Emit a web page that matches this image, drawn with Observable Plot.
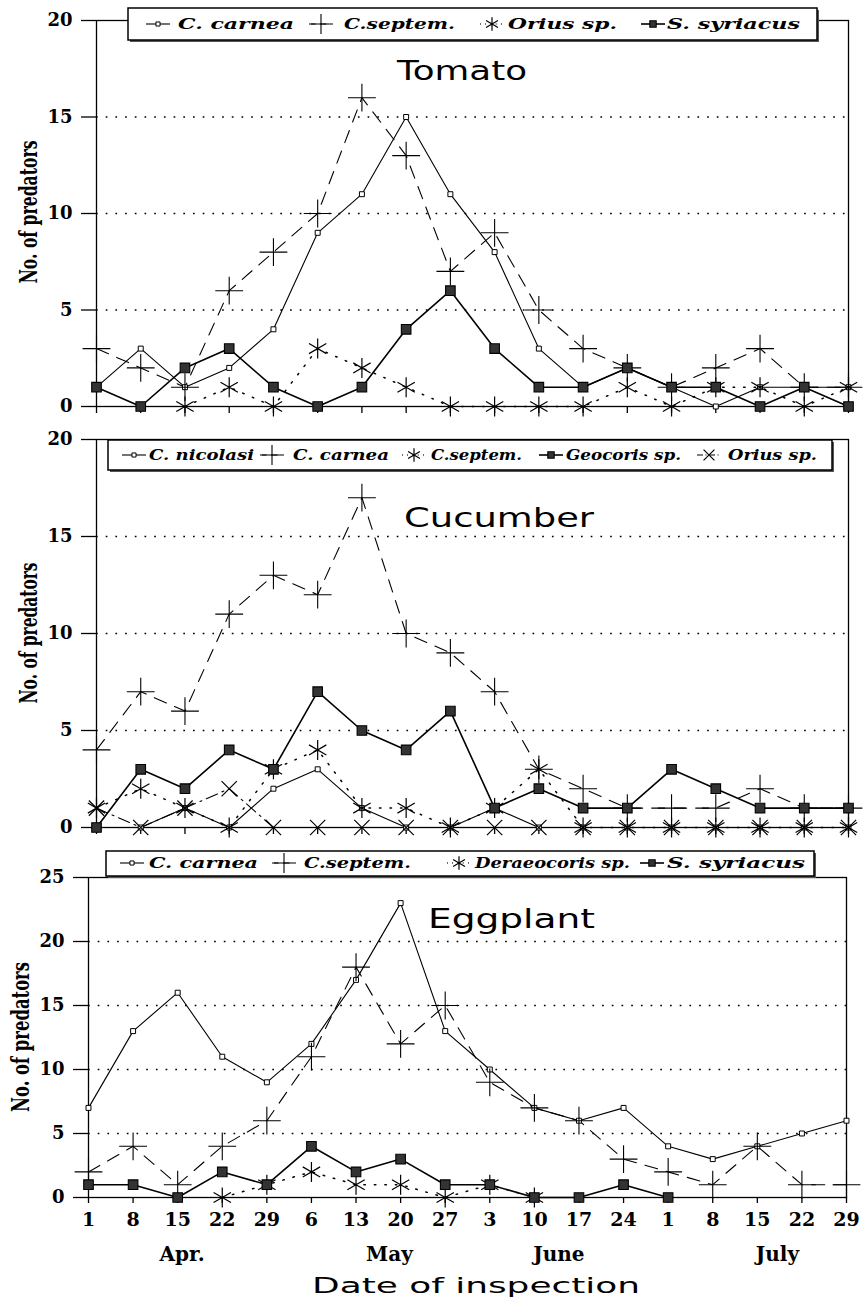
<!DOCTYPE html>
<html>
<head>
<meta charset="utf-8">
<script src="https://cdn.jsdelivr.net/npm/d3@7"></script>
<script src="https://cdn.jsdelivr.net/npm/@observablehq/plot@0.6"></script>
<style>
  html, body { margin: 0; padding: 0; background: #fff; }
  #root { position: relative; width: 867px; height: 1298px; overflow: hidden; background: #fff; }
  #root > svg, #root > div { position: absolute; left: 0; }
</style>
</head>
<body>
<div id="root"></div>
<script>
// ---------------- data ----------------
const dates = ["1","8","15","22","29","6","13","20","27","3","10","17","24","1","8","15","22","29"];
const months = ["Apr.", "May", "June", "July"];
const monthCenters = [2.1, 6.75, 10.55, 15.45]; // date-index positions of month labels

const tomatoCarnea   = [1,3,1,2,4,9,11,15,11,8,3,1,2,1,0,1,1,1];
const tomatoSeptem   = [3,2,1,6,8,10,16,13,7,9,5,3,2,1,2,3,1,1];
const tomatoOrius    = [null,null,0,1,0,3,2,1,0,0,0,0,1,0,1,1,0,1];
const tomatoSyriacus = [1,0,2,3,1,0,1,4,6,3,1,1,2,1,1,0,1,0];

const cucNicolasi = [0,0,1,0,2,3,1,0,0,1,0,0,0,0,0,0,0,0];
const cucCarnea   = [4,7,6,11,13,12,17,10,9,7,3,2,1,1,1,2,1,1];
const cucSeptem   = [1,2,1,0,3,4,1,1,0,1,3,0,0,0,0,0,0,0];
const cucGeocoris = [0,3,2,4,3,7,5,4,6,1,2,1,1,3,2,1,1,1];
const cucOrius    = [1,0,1,2,0,0,0,0,0,0,0,0,0,0,0,0,0,0];

const eggCarnea      = [7,13,16,11,9,12,17,23,13,10,7,6,7,4,3,4,5,6];
const eggSeptem      = [2,4,1,4,6,11,18,12,15,9,7,6,3,2,1,4,1,1];
const eggDeraeocoris = [null,null,null,0,1,2,1,1,0,1,0,null,null,null,null,null,null,null];
const eggSyriacus    = [1,1,0,2,1,4,2,3,1,1,0,0,1,0,null,null,null,null];

// ---------------- styles ----------------
const markStyles = {
  smallSquare: {symbol: "square",   r: 2.8, fill: "white",   sw: 1.0, legendR: 2.3},
  bigSquare:   {symbol: "square",   r: 5.4, fill: "#333",    sw: 1.1, legendR: 3.6},
  plus:        {symbol: "plus",     r: 9,   fill: "none",    sw: 1.1, legendR: 6.5},
  asterisk:    {symbol: "asterisk", r: 9.5, fill: "none",    sw: 1.2, legendR: 6.5},
  times:       {symbol: "times",    r: 7,   fill: "none",    sw: 1.2, legendR: 5}
};
const lineStyles = {
  solid:      {w: 1.1, dash: null},
  solidThick: {w: 1.6, dash: null},
  dashed:     {w: 1.1, dash: "13,9"},
  dotted:     {w: 1.5, dash: "1.5,9"},
  dashdot:    {w: 1.1, dash: "12,5,2,5"}
};
const d3Symbols = {square: d3.symbolSquare, plus: d3.symbolPlus, asterisk: d3.symbolAsterisk, times: d3.symbolTimes};

const seriesTomato = [
  {name: "C. carnea",   values: tomatoCarnea,   mark: "smallSquare", line: "solid"},
  {name: "C.septem.",   values: tomatoSeptem,   mark: "plus",        line: "dashed"},
  {name: "Orius sp.",   values: tomatoOrius,    mark: "asterisk",    line: "dotted"},
  {name: "S. syriacus", values: tomatoSyriacus, mark: "bigSquare",   line: "solidThick"}
];
const seriesCucumber = [
  {name: "C. nicolasi",  values: cucNicolasi, mark: "smallSquare", line: "solid"},
  {name: "C. carnea",    values: cucCarnea,   mark: "plus",        line: "dashed"},
  {name: "C.septem.",    values: cucSeptem,   mark: "asterisk",    line: "dotted"},
  {name: "Geocoris sp.", values: cucGeocoris, mark: "bigSquare",   line: "solidThick"},
  {name: "Orius sp.",    values: cucOrius,    mark: "times",       line: "dashdot"}
];
const seriesEggplant = [
  {name: "C. carnea",       values: eggCarnea,      mark: "smallSquare", line: "solid"},
  {name: "C.septem.",       values: eggSeptem,      mark: "plus",        line: "dashed"},
  {name: "Deraeocoris sp.", values: eggDeraeocoris, mark: "asterisk",    line: "dotted"},
  {name: "S. syriacus",     values: eggSyriacus,    mark: "bigSquare",   line: "solidThick"}
];

const root = document.getElementById("root");
const idx = d3.range(dates.length);
const serifBold = {fontFamily: "DejaVu Serif", fontWeight: "bold"};

function panel({top, height, mt, mb, ml, mr, yMax, series, labels}) {
  const yTicks = d3.range(0, yMax + 1, 5);
  const grid = yTicks.filter(v => v > 0 && v < yMax);
  const marks = [
    Plot.ruleY(grid, {stroke: "#000", strokeWidth: 1.7, strokeDasharray: "1.7,8"}),
    Plot.frame({stroke: "#000", strokeWidth: 1.3}),
    Plot.axisY({ticks: yTicks, tickSize: 15, tickPadding: 9, fontSize: 18, ...serifBold, label: null, strokeWidth: 1.3}),
    labels
      ? Plot.axisX({ticks: idx, tickFormat: i => dates[i], tickSize: 6, tickPadding: 9, fontSize: 19, ...serifBold, label: null, strokeWidth: 1.3})
      : Plot.axisX({ticks: idx, tickFormat: () => "", tickSize: 7, tickPadding: 0, label: null, strokeWidth: 1.3})
  ];
  if (labels) {
    marks.push(Plot.text(months, {x: monthCenters, frameAnchor: "bottom", dy: 63, lineAnchor: "bottom",
      text: d => d, fontSize: 20, ...serifBold, fill: "#000"}));
  }
  for (const s of series) {
    const ls = lineStyles[s.line];
    marks.push(Plot.line(idx, {x: i => i, y: i => s.values[i], stroke: "#000", strokeWidth: ls.w,
      strokeDasharray: ls.dash, curve: "linear"}));
  }
  for (const s of series) {
    const ms = markStyles[s.mark];
    marks.push(Plot.dot(idx.filter(i => s.values[i] != null), {x: i => i, y: i => s.values[i],
      symbol: ms.symbol, r: ms.r, fill: ms.fill, stroke: "#000", strokeWidth: ms.sw}));
  }
  const chart = Plot.plot({
    width: 867, height,
    marginTop: mt, marginBottom: mb, marginLeft: ml, marginRight: mr,
    x: {domain: [0, dates.length - 1]},
    y: {domain: [0, yMax]},
    style: {background: "transparent", color: "#000"},
    marks
  });
  chart.style.position = "absolute";
  chart.style.left = "0px";
  chart.style.top = top + "px";
  root.appendChild(chart);
}

panel({top: 0,   height: 420, mt: 20, mb: 14,  ml: 96, mr: 19, yMax: 20, series: seriesTomato,   labels: false});
panel({top: 420, height: 420, mt: 19, mb: 13,  ml: 96, mr: 19, yMax: 20, series: seriesCucumber, labels: false});
panel({top: 850, height: 448, mt: 27, mb: 101, ml: 88, mr: 21, yMax: 25, series: seriesEggplant, labels: true});

// ---------------- overlay: titles, legends, axis titles ----------------
const ov = d3.select(root).append("svg")
  .attr("width", 867).attr("height", 1298)
  .style("position", "absolute").style("left", "0px").style("top", "0px")
  .style("overflow", "visible");

function txt(str, x, y, {size, family, weight = "normal", style = "normal", length, anchor = "start", rotate = false}) {
  const t = ov.append("text")
    .attr("font-family", family).attr("font-size", size)
    .attr("font-weight", weight).attr("font-style", style)
    .attr("text-anchor", anchor).attr("fill", "#000")
    .text(str);
  if (rotate) t.attr("transform", `translate(${x},${y}) rotate(-90)`);
  else t.attr("x", x).attr("y", y);
  if (length) t.attr("textLength", length).attr("lengthAdjust", "spacingAndGlyphs");
  return t;
}

// panel titles
txt("Tomato",   397, 80,  {size: 27, family: "DejaVu Sans", length: 130});
txt("Cucumber", 404, 527, {size: 27, family: "DejaVu Sans", length: 190});
txt("Eggplant", 428, 928, {size: 27, family: "DejaVu Sans", length: 167});

// y axis titles
txt("No. of predators", 37, 212,  {size: 24, family: "DejaVu Serif", weight: "bold", anchor: "middle", length: 143, rotate: true});
txt("No. of predators", 37, 633,  {size: 24, family: "DejaVu Serif", weight: "bold", anchor: "middle", length: 141, rotate: true});
txt("No. of predators", 29, 1037, {size: 24, family: "DejaVu Serif", weight: "bold", anchor: "middle", length: 150, rotate: true});

// x axis title
txt("Date of inspection", 312, 1293, {size: 21, family: "DejaVu Sans", length: 328});

// legends
function legend(box, baseline, series, layout) {
  const [x0, y0, x1, y1] = box;
  ov.append("rect").attr("x", x0 + 2).attr("y", y0 + 2).attr("width", x1 - x0).attr("height", y1 - y0)
    .attr("fill", "#555");
  ov.append("rect").attr("x", x0).attr("y", y0).attr("width", x1 - x0).attr("height", y1 - y0)
    .attr("fill", "#fff").attr("stroke", "#000").attr("stroke-width", 1.5);
  const cy = baseline - 5;
  series.forEach((s, k) => {
    const [sx, tx, tw] = layout[k];
    const ls = lineStyles[s.line], ms = markStyles[s.mark];
    ov.append("line").attr("x1", sx - 12).attr("x2", sx + 12).attr("y1", cy).attr("y2", cy)
      .attr("stroke", "#000").attr("stroke-width", ls.w)
      .attr("stroke-dasharray", ls.dash ? ls.dash.split(",").map(v => +v * 0.5).join(",") : null);
    ov.append("path")
      .attr("d", d3.symbol(d3Symbols[ms.symbol], Math.PI * ms.legendR * ms.legendR)())
      .attr("transform", `translate(${sx},${cy})`)
      .attr("fill", ms.fill).attr("stroke", "#000").attr("stroke-width", ms.sw);
    txt(s.name, tx, baseline, {size: 14, family: "DejaVu Serif", weight: "bold", style: "italic", length: tw});
  });
}

legend([128, 8, 817, 40], 29, seriesTomato,
  [[158, 178, 116], [321, 344, 111], [492, 508, 109], [653, 667, 133]]);
legend([108, 440, 832, 470], 460, seriesCucumber,
  [[134, 149, 105], [272, 293, 96], [414, 431, 91], [551, 566, 115], [709, 728, 89]]);
legend([106, 851, 814, 876], 868, seriesEggplant,
  [[132, 149, 109], [284, 304, 107], [459, 475, 155], [652, 667, 138]]);
</script>
</body>
</html>
